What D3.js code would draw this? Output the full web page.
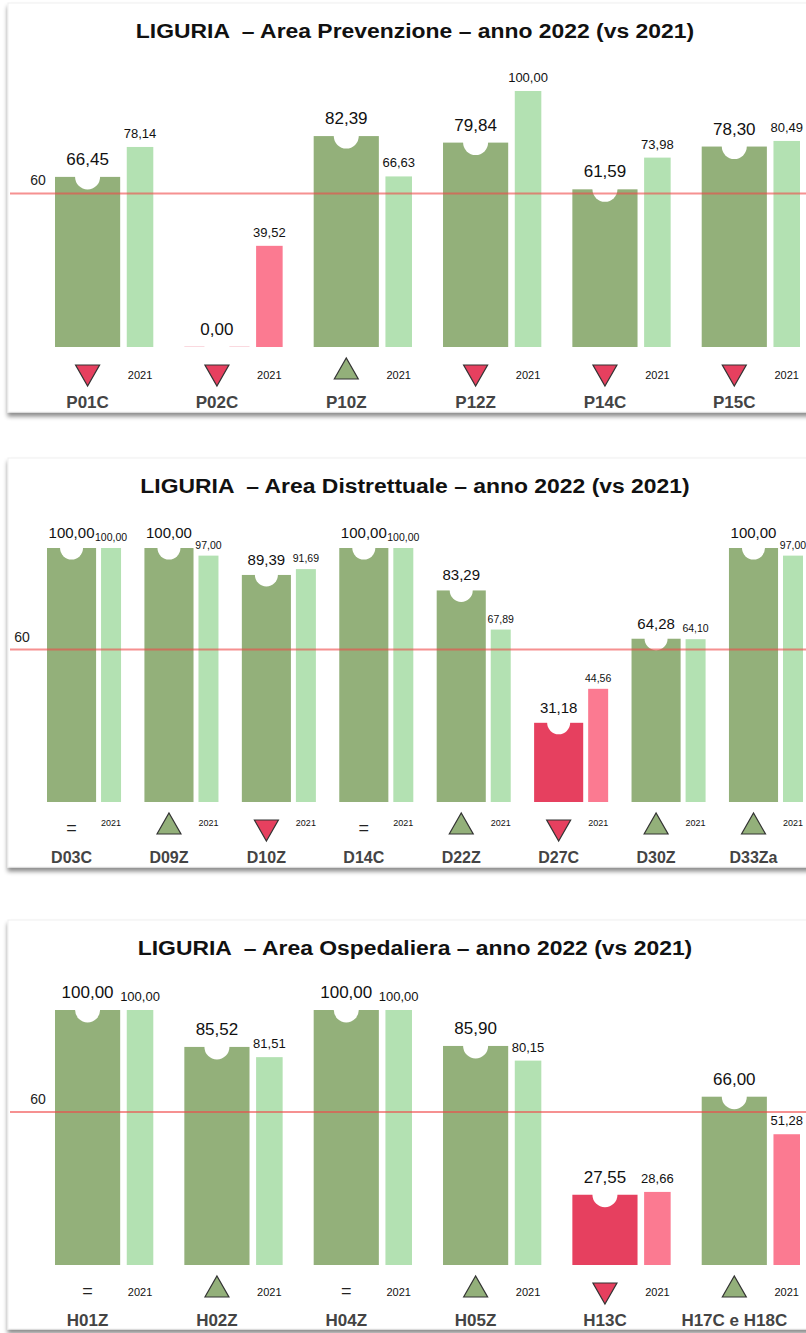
<!DOCTYPE html>
<html>
<head>
<meta charset="utf-8">
<script src="https://cdn.jsdelivr.net/npm/d3@7"></script>
<style>
  body { margin: 0; background: #fff; }
  svg { display: block; font-family: "Liberation Sans", Arial, sans-serif; }
</style>
</head>
<body>
<div id="chart"></div>
<script>
// data
var threshold = 60;

var prevCodes = ["P01C", "P02C", "P10Z", "P12Z", "P14C", "P15C"];
var prev2022 = [66.45, 0.00, 82.39, 79.84, 61.59, 78.30];
var prev2021 = [78.14, 39.52, 66.63, 100.00, 73.98, 80.49];

var distCodes = ["D03C", "D09Z", "D10Z", "D14C", "D22Z", "D27C", "D30Z", "D33Za"];
var dist2022 = [100.00, 100.00, 89.39, 100.00, 83.29, 31.18, 64.28, 100.00];
var dist2021 = [100.00, 97.00, 91.69, 100.00, 67.89, 44.56, 64.10, 97.00];

var ospCodes = ["H01Z", "H02Z", "H04Z", "H05Z", "H13C", "H17C e H18C"];
var osp2022 = [100.00, 85.52, 100.00, 85.90, 27.55, 66.00];
var osp2021 = [100.00, 81.51, 100.00, 80.15, 28.66, 51.28];

var green = "#93b07a", lightGreen = "#b3e1b2", red = "#e6405f", pink = "#fb7a91";

var width = 806, height = 1333;
var fmt = function(v){ return d3.format(".2f")(v).replace(".", ","); };

var svg = d3.select("#chart").append("svg")
    .attr("width", width)
    .attr("height", height);

var defs = svg.append("defs");
var f = defs.append("filter").attr("id", "shadow")
    .attr("x", "-5%").attr("y", "-5%").attr("width", "110%").attr("height", "115%");
f.append("feDropShadow")
    .attr("dx", 0).attr("dy", 4)
    .attr("stdDeviation", 2)
    .attr("flood-color", "#000")
    .attr("flood-opacity", 0.45);

function drawPanel(cfg){
    var g = svg.append("g");

    g.append("rect")
        .attr("x", 8).attr("y", cfg.top)
        .attr("width", 830).attr("height", cfg.bottom - cfg.top)
        .attr("fill", "#fff")
        .attr("stroke", "#f0f0f0")
        .attr("filter", "url(#shadow)");

    var title = g.append("text")
        .attr("x", 415).attr("y", cfg.top + 35)
        .attr("text-anchor", "middle")
        .attr("font-size", 20).attr("font-weight", "bold")
        .attr("fill", "#111")
        .attr("xml:space", "preserve")
        .text(cfg.title);
    // reference title is drawn a bit wider than the font's natural width
    var tl = title.node().getComputedTextLength();
    title.attr("textLength", tl * 1.145).attr("lengthAdjust", "spacingAndGlyphs");

    var x = d3.scaleBand()
        .domain(cfg.codes)
        .range([cfg.x0, cfg.x1])
        .paddingInner(0.24)
        .paddingOuter(0);

    var y = d3.scaleLinear()
        .domain([0, 100])
        .range([cfg.base, cfg.y100]);

    var bw = x.bandwidth();
    var mainW = bw * 0.663, gap = bw * 0.067, oldW = bw - mainW - gap;

    var rows = cfg.codes.map(function(c, i){
        return {code: c, cur: cfg.cur[i], old: cfg.old[i]};
    });

    var grp = g.selectAll(".grp").data(rows).enter().append("g")
        .attr("class", "grp")
        .attr("transform", function(d){ return "translate(" + x(d.code) + ",0)"; });

    // 2022 bar
    grp.append("rect")
        .attr("x", 0)
        .attr("y", function(d){ return d.cur > 0 ? y(d.cur) : cfg.base - 1; })
        .attr("width", mainW)
        .attr("height", function(d){ return d.cur > 0 ? cfg.base - y(d.cur) : 1; })
        .attr("fill", function(d){ return d.cur >= threshold ? green : red; })
        .attr("opacity", function(d){ return d.cur > 0 ? 1 : 0.2; });

    // notch
    grp.append("circle")
        .attr("cx", mainW / 2)
        .attr("cy", function(d){ return y(d.cur); })
        .attr("r", cfg.notch)
        .attr("fill", "#fff");

    // 2021 bar
    grp.append("rect")
        .attr("x", mainW + gap)
        .attr("y", function(d){ return y(d.old); })
        .attr("width", oldW)
        .attr("height", function(d){ return cfg.base - y(d.old); })
        .attr("fill", function(d){ return d.old >= threshold ? lightGreen : pink; });

    // values
    grp.append("text")
        .attr("x", mainW / 2)
        .attr("y", function(d){ return y(d.cur) - cfg.curOff; })
        .attr("text-anchor", "middle")
        .attr("font-size", cfg.curFont)
        .attr("fill", "#111")
        .text(function(d){ return fmt(d.cur); });

    grp.append("text")
        .attr("x", mainW + gap + oldW / 2)
        .attr("y", function(d){ return y(d.old) - cfg.oldOff; })
        .attr("text-anchor", "middle")
        .attr("font-size", cfg.oldFont)
        .attr("fill", "#111")
        .text(function(d){ return fmt(d.old); });

    // trend marker
    var tw = 12, th = 21;
    grp.each(function(d){
        var m = d3.select(this);
        var cx = mainW / 2;
        if(d.cur > d.old){
            var t = cfg.base + 11;
            m.append("path")
                .attr("d", "M" + (cx - tw) + "," + (t + th) + "L" + cx + "," + t + "L" + (cx + tw) + "," + (t + th) + "Z")
                .attr("fill", green).attr("stroke", "#333").attr("stroke-width", 1.2);
        } else if(d.cur < d.old){
            var t2 = cfg.base + 18;
            m.append("path")
                .attr("d", "M" + (cx - tw) + "," + t2 + "L" + (cx + tw) + "," + t2 + "L" + cx + "," + (t2 + th) + "Z")
                .attr("fill", red).attr("stroke", "#333").attr("stroke-width", 1.2);
        } else {
            m.append("text")
                .attr("x", cx).attr("y", cfg.base + 32)
                .attr("text-anchor", "middle")
                .attr("font-size", 18).attr("fill", "#222")
                .text("=");
        }
    });

    grp.append("text")
        .attr("x", mainW + gap + oldW / 2)
        .attr("y", cfg.base + cfg.yearOff)
        .attr("text-anchor", "middle")
        .attr("font-size", cfg.yearFont)
        .attr("fill", "#111")
        .text("2021");

    grp.append("text")
        .attr("x", mainW / 2)
        .attr("y", cfg.base + 61)
        .attr("text-anchor", "middle")
        .attr("font-size", cfg.codeFont).attr("font-weight", "bold")
        .attr("fill", "#444")
        .text(function(d){ return d.code; });

    // threshold line
    g.append("line")
        .attr("x1", 10).attr("x2", width)
        .attr("y1", y(threshold)).attr("y2", y(threshold))
        .attr("stroke", "#f04848").attr("stroke-opacity", 0.6)
        .attr("stroke-width", 2);

    g.append("text")
        .attr("x", cfg.tx).attr("y", y(threshold) - 8)
        .attr("text-anchor", "middle")
        .attr("font-size", 14).attr("fill", "#222")
        .text(threshold);
}

drawPanel({
    title: "LIGURIA  \u2013 Area Prevenzione \u2013 anno 2022 (vs 2021)",
    codes: prevCodes, cur: prev2022, old: prev2021,
    top: 3, bottom: 412, base: 347, y100: 91, x0: 55, x1: 800,
    notch: 12.5, curFont: 17, curOff: 12, oldFont: 13, oldOff: 9,
    yearFont: 11, yearOff: 32, codeFont: 17, tx: 38
});

drawPanel({
    title: "LIGURIA  \u2013 Area Distrettuale \u2013 anno 2022 (vs 2021)",
    codes: distCodes, cur: dist2022, old: dist2021,
    top: 458, bottom: 867, base: 802, y100: 548, x0: 47, x1: 803,
    notch: 11.5, curFont: 15, curOff: 10, oldFont: 10.5, oldOff: 7,
    yearFont: 9, yearOff: 24, codeFont: 16, tx: 22
});

drawPanel({
    title: "LIGURIA  \u2013 Area Ospedaliera \u2013 anno 2022 (vs 2021)",
    codes: ospCodes, cur: osp2022, old: osp2021,
    top: 920, bottom: 1329, base: 1265, y100: 1010, x0: 55, x1: 800,
    notch: 12.5, curFont: 17, curOff: 12, oldFont: 13, oldOff: 9,
    yearFont: 11, yearOff: 31, codeFont: 17, tx: 38
});
</script>
</body>
</html>
